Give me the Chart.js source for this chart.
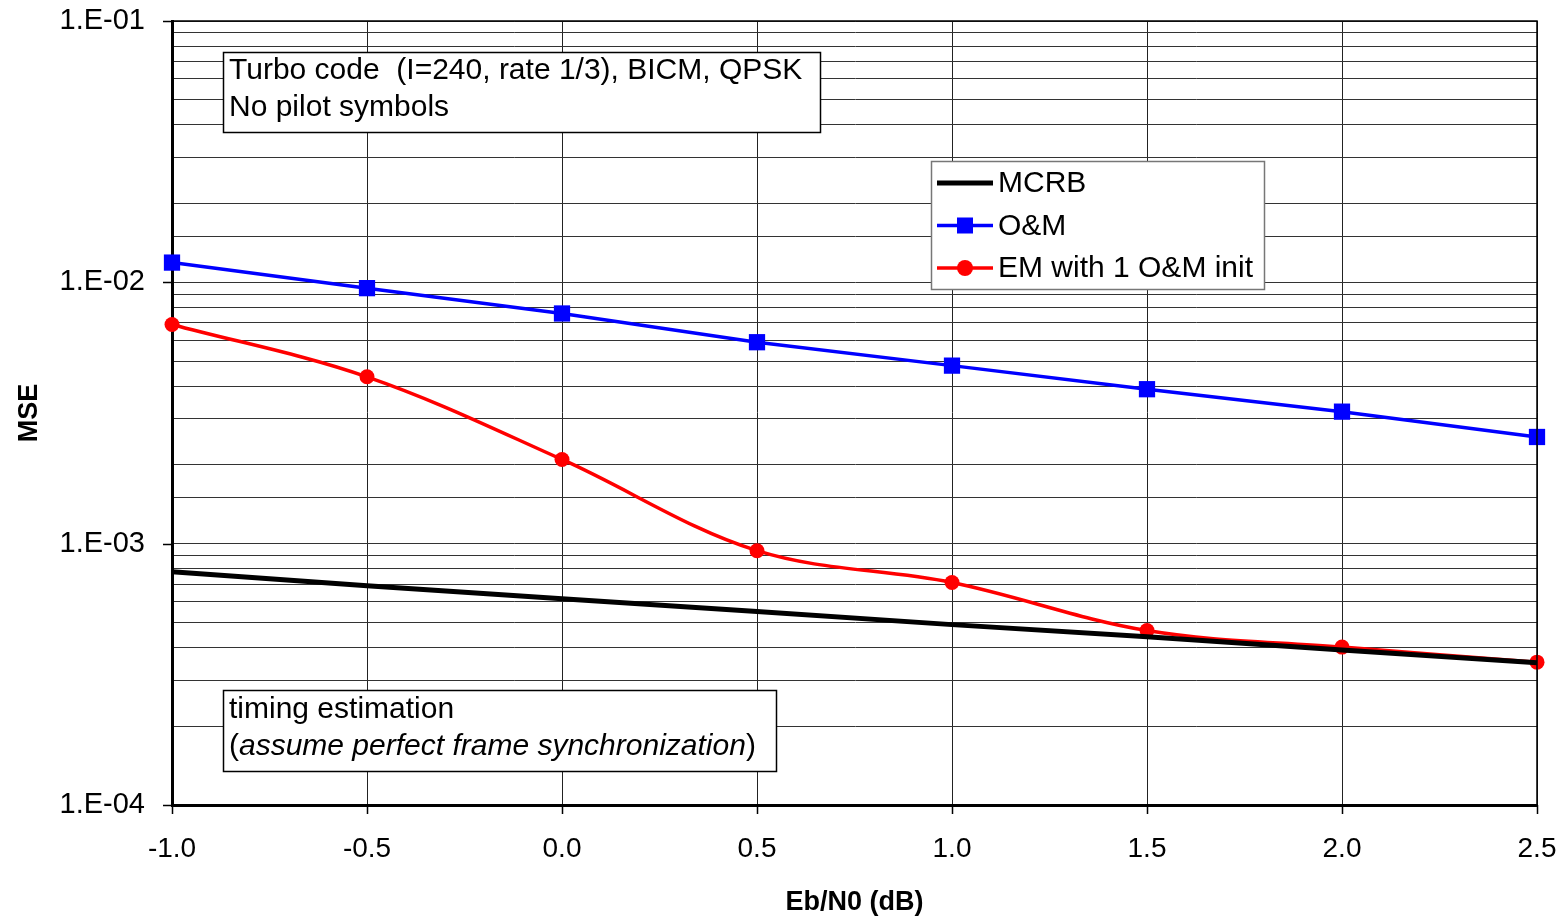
<!DOCTYPE html>
<html>
<head>
<meta charset="utf-8">
<script src="https://cdn.jsdelivr.net/npm/chart.js@4/dist/chart.umd.min.js"></script>
<style>
  html, body { margin: 0; padding: 0; background: #fff; }
  #wrap { width: 1568px; height: 920px; }
</style>
</head>
<body>
<div id="wrap"><canvas id="mseChart" width="1568" height="920"></canvas></div>
<script>
// Eb/N0-Stützstellen (dB)
const ebn0 = [-1.0, -0.5, 0.0, 0.5, 1.0, 1.5, 2.0, 2.5];

// MSE der Zeitschätzung je Verfahren
const mcrb  = [7.8e-4, 6.9e-4, 6.15e-4, 5.5e-4, 4.9e-4, 4.4e-4, 3.92e-4, 3.5e-4];
const oundm = [1.19e-2, 9.5e-3, 7.6e-3, 5.9e-3, 4.8e-3, 3.9e-3, 3.2e-3, 2.56e-3];
const emInit = [6.9e-3, 4.35e-3, 2.1e-3, 9.4e-4, 7.1e-4, 4.65e-4, 4.02e-4, 3.52e-4];

const xTicks = [-1.0, -0.5, 0.0, 0.5, 1.0, 1.5, 2.0, 2.5];
const yDecades = [1e-4, 1e-3, 1e-2, 1e-1];

const FONT = "'Liberation Sans', Arial, sans-serif";

const punkte = (werte) => werte.map((y, i) => ({ x: ebn0[i], y }));

function istDekade(v) {
  const l = Math.log10(v);
  return Math.abs(l - Math.round(l)) < 1e-9;
}

// Rahmen, Teilstriche und Textkästen im Diagramm
const rahmenPlugin = {
  id: 'rahmen',
  afterDraw(chart) {
    const { ctx, chartArea: a, scales } = chart;
    ctx.save();
    ctx.strokeStyle = '#000';

    // obere und rechte Begrenzung
    ctx.lineWidth = 1.5;
    ctx.beginPath();
    ctx.moveTo(a.left, a.top);
    ctx.lineTo(a.right, a.top);
    ctx.lineTo(a.right, a.bottom);
    ctx.stroke();

    // Teilstriche außen
    ctx.lineWidth = 1.5;
    ctx.beginPath();
    yDecades.forEach(v => {
      const y = Math.round(scales.y.getPixelForValue(v)) + 0.5;
      ctx.moveTo(a.left - 9, y);
      ctx.lineTo(a.left, y);
    });
    xTicks.forEach(v => {
      const x = Math.round(scales.x.getPixelForValue(v)) + 0.5;
      ctx.moveTo(x, a.bottom);
      ctx.lineTo(x, a.bottom + 9);
    });
    ctx.stroke();

    // Kasten oben links
    textKasten(ctx, 223, 52, 597, 80, [
      [{ t: 'Turbo code  (I=240, rate 1/3), BICM, QPSK' }],
      [{ t: 'No pilot symbols' }],
    ], 71, 37);

    // Kasten unten links
    textKasten(ctx, 223, 690, 553, 81, [
      [{ t: 'timing estimation' }],
      [{ t: '(' }, { t: 'assume perfect frame synchronization', it: true }, { t: ')' }],
    ], 710, 37);

    // Legende
    legendeZeichnen(ctx, chart);
    ctx.restore();
  }
};

function textKasten(ctx, x, y, w, h, zeilen, y0, abstand) {
  ctx.fillStyle = '#fff';
  ctx.fillRect(x, y, w, h);
  ctx.lineWidth = 1.5;
  ctx.strokeStyle = '#000';
  ctx.strokeRect(x + 0.5, y + 0.5, w, h);
  ctx.fillStyle = '#000';
  ctx.textBaseline = 'middle';
  ctx.textAlign = 'left';
  zeilen.forEach((teile, i) => {
    let cx = x + 6;
    teile.forEach(p => {
      ctx.font = (p.it ? 'italic ' : '') + '30px ' + FONT;
      ctx.fillText(p.t, cx, y0 + i * abstand);
      cx += ctx.measureText(p.t).width;
    });
  });
}

function legendeZeichnen(ctx, chart) {
  const x = 931, y = 161, w = 333, h = 128;
  ctx.fillStyle = '#fff';
  ctx.fillRect(x, y, w, h);
  ctx.lineWidth = 1.5;
  ctx.strokeStyle = '#777';
  ctx.strokeRect(x + 0.5, y + 0.5, w, h);

  chart.data.datasets.forEach((ds, i) => {
    const ly = 183 + i * 42.5;
    ctx.strokeStyle = ds.borderColor;
    ctx.lineWidth = ds.borderWidth;
    ctx.beginPath();
    ctx.moveTo(937, ly);
    ctx.lineTo(993, ly);
    ctx.stroke();
    ctx.fillStyle = ds.pointBackgroundColor || ds.borderColor;
    if (ds.pointStyle === 'rect') {
      ctx.fillRect(965 - 8, ly - 8, 16, 16);
    } else if (ds.pointStyle === 'circle') {
      ctx.beginPath();
      ctx.arc(965, ly, 8, 0, Math.PI * 2);
      ctx.fill();
    }
    ctx.fillStyle = '#000';
    ctx.font = '30px ' + FONT;
    ctx.textBaseline = 'middle';
    ctx.textAlign = 'left';
    ctx.fillText(ds.label, 998, ly + 1);
  });
}

new Chart(document.getElementById('mseChart'), {
  type: 'line',
  data: {
    datasets: [
      {
        label: 'MCRB',
        data: punkte(mcrb),
        borderColor: '#000',
        borderWidth: 5,
        pointRadius: 0,
        pointStyle: false,
        tension: 0,
        clip: false,
      },
      {
        label: 'O&M',
        data: punkte(oundm),
        borderColor: '#0000ff',
        backgroundColor: '#0000ff',
        pointBackgroundColor: '#0000ff',
        pointBorderWidth: 0,
        borderWidth: 3.5,
        pointStyle: 'rect',
        pointRadius: 11.5,
        tension: 0,
        clip: false,
      },
      {
        label: 'EM with 1 O&M init',
        data: punkte(emInit),
        borderColor: '#ff0000',
        backgroundColor: '#ff0000',
        pointBackgroundColor: '#ff0000',
        pointBorderWidth: 0,
        borderWidth: 3.5,
        pointStyle: 'circle',
        pointRadius: 7.5,
        tension: 0.35,
        clip: false,
      },
    ],
  },
  options: {
    responsive: false,
    animation: false,
    layout: { padding: { top: 21, right: 31, left: 0, bottom: 0 } },
    plugins: {
      legend: { display: false },
      tooltip: { enabled: false },
    },
    scales: {
      x: {
        type: 'linear',
        min: -1.0,
        max: 2.5,
        afterBuildTicks: (scale) => { scale.ticks = xTicks.map(v => ({ value: v })); },
        afterFit: (scale) => {
          scale.height = 115;
          scale.paddingLeft = 0;
          scale.paddingRight = 0;
        },
        border: { color: '#000', width: 3 },
        grid: { color: '#222', lineWidth: 1, drawTicks: false },
        ticks: {
          color: '#000',
          font: { family: FONT, size: 28 },
          padding: 27,
          maxRotation: 0,
          callback: (v) => Number(v).toFixed(1),
        },
        title: {
          display: true,
          text: 'Eb/N0 (dB)',
          color: '#000',
          font: { family: FONT, size: 27, weight: 'bold' },
          padding: { top: 0, bottom: 1 },
        },
      },
      y: {
        type: 'logarithmic',
        min: 1e-4,
        max: 1e-1,
        afterFit: (scale) => {
          scale.width = 172;
          scale.paddingTop = 0;
          scale.paddingBottom = 0;
        },
        border: { color: '#000', width: 3 },
        grid: {
          color: '#333',
          lineWidth: 1,
          drawTicks: false,
        },
        ticks: {
          color: '#000',
          font: { family: FONT, size: 29 },
          padding: 27,
          autoSkip: false,
          callback: (v) => istDekade(v) ? '1.E-0' + Math.round(-Math.log10(v)) : '',
        },
        title: {
          display: true,
          text: 'MSE',
          color: '#000',
          font: { family: FONT, size: 27, weight: 'bold' },
          padding: { top: 13, bottom: 0 },
        },
      },
    },
  },
  plugins: [rahmenPlugin],
});
</script>
</body>
</html>
